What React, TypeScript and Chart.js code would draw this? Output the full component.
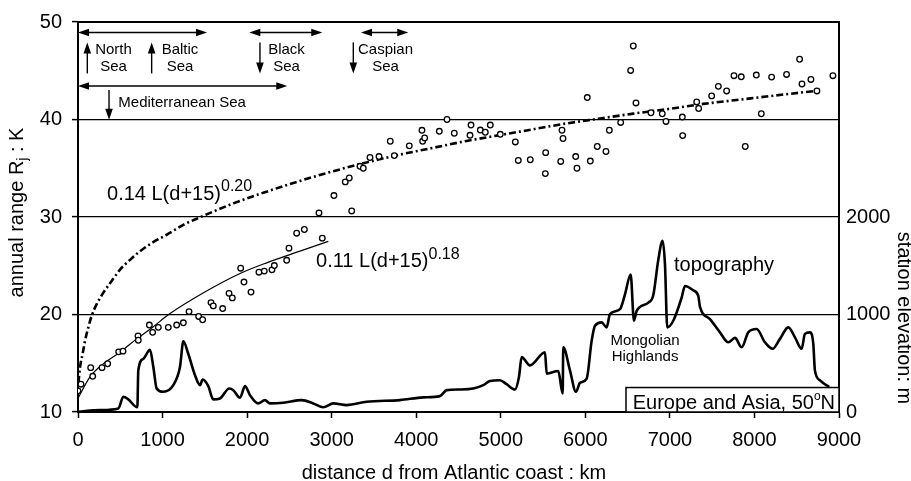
import { useEffect, useRef } from "react";
import { Chart, registerables } from "chart.js";

Chart.register(...registerables);

const FONT = '"Liberation Sans", Arial, Helvetica, sans-serif';

// Station observations along 50°N: distance from the Atlantic coast (km)
const stationDistance = [
  0, 35, 150, 174, 284, 351, 481, 532, 710, 713, 844, 883, 950, 1068, 1167, 1246, 1313, 1427, 1474,
  1573, 1600, 1711, 1786, 1825, 1924, 1963, 2046, 2140, 2203, 2294, 2322, 2468, 2495, 2586, 2677,
  2889, 2850, 3237, 3027, 3161, 3208, 3335, 3374, 3453, 3560, 3741, 3693, 3918, 4068, 4076, 4100,
  4273, 4364, 4450, 4648, 4636, 4758, 4817, 4876, 4994, 5172, 5207, 5349, 5527, 5531, 5709, 5724,
  5736, 5886, 5901, 6023, 6059, 6141, 6244, 6284, 6418, 6536, 6567, 6599, 6776, 6910, 6954, 7147,
  7151, 7317, 7340, 7494, 7573, 7671, 7758, 7844, 7891, 8022, 8081, 8203, 8380, 8534, 8562, 8668,
  8739, 8928,
];
// Annual temperature range at each station (K)
const stationRange = [
  12.17, 12.85, 14.55, 13.66, 14.55, 14.95, 16.17, 16.24, 17.8, 17.36, 18.92, 18.17, 18.68, 18.68,
  18.92, 19.15, 20.3, 19.8, 19.46, 21.22, 20.88, 20.61, 22.17, 21.7, 24.75, 23.33, 22.3, 24.34,
  24.45, 24.58, 25.02, 25.56, 26.8, 28.34, 28.72, 27.83, 30.42, 30.62, 32.2, 33.6, 34.0, 35.2, 35.0,
  36.1, 36.2, 36.3, 37.77, 37.3, 38.89, 37.77, 38.1, 38.79, 40.0, 38.59, 39.43, 38.38, 38.92, 38.69,
  39.43, 38.48, 37.7, 35.8, 35.87, 34.45, 36.6, 35.7, 38.9, 38.05, 36.2, 35.0, 42.25, 35.74, 37.23,
  36.72, 38.9, 39.7, 45.03, 47.54, 41.7, 40.69, 40.59, 39.8, 40.25, 38.35, 41.8, 41.13, 42.42, 43.4,
  42.93, 44.49, 44.38, 37.23, 44.56, 40.59, 44.35, 44.62, 46.18, 43.64, 44.11, 42.93, 44.49,
];

// Curve 0.14 L(d+15)^0.20
const wideFitDistance = [
  5, 24, 55, 83, 122, 162, 221, 300, 398, 497, 615, 733, 871, 1049, 1246, 1443, 1837, 2231, 2625,
  3020, 3414, 3808, 4202, 4596, 4990, 5384, 5779, 6173, 6567, 7001, 7395, 7789, 8183, 8739,
];
const wideFitRange = [
  13.0, 14.6, 15.97, 17.3, 18.68, 19.87, 21.06, 22.24, 23.43, 24.6, 25.6, 26.48, 27.32, 28.18, 29.2,
  29.97, 31.4, 32.6, 33.7, 34.7, 35.6, 36.4, 37.1, 37.8, 38.4, 39.0, 39.6, 40.1, 40.6, 41.1, 41.6,
  42.0, 42.4, 42.95,
];

// Curve 0.11 L(d+15)^0.18
const narrowFitDistance = [0, 142, 300, 497, 694, 891, 1068, 1500, 1916, 2231, 2625, 2960];
const narrowFitRange = [11.4, 13.6, 14.95, 16.13, 17.5, 18.75, 19.97, 22.3, 24.2, 25.3, 26.5, 27.5];

// Topography profile along 50°N: distance (km) and elevation (m)
const topoDistance = [
  0, 260, 477, 536, 595, 702, 713, 773, 851, 891, 930, 1009, 1127, 1206, 1246, 1304, 1384, 1443,
  1474, 1541, 1600, 1679, 1789, 1837, 1916, 1975, 2034, 2132, 2211, 2270, 2428, 2645, 2783, 2901,
  3020, 3178, 3414, 3808, 4084, 4281, 4360, 4518, 4675, 4793, 4872, 4990, 5069, 5168, 5215, 5247,
  5345, 5523, 5543, 5680, 5732, 5739, 5818, 5889, 5937, 6016, 6075, 6114, 6193, 6252, 6291, 6410,
  6469, 6536, 6575, 6607, 6745, 6804, 6863, 6914, 6942, 6969, 7040, 7139, 7178, 7277, 7336, 7356,
  7474, 7592, 7691, 7770, 7849, 7927, 8026, 8124, 8215, 8302, 8400, 8479, 8558, 8597, 8656, 8696,
  8715, 8774, 8833, 8873,
];
const topoElevation = [
  3, 20, 37, 156, 129, 48, 427, 546, 638, 461, 241, 207, 275, 461, 725, 597, 376, 275, 333, 265, 129,
  139, 241, 224, 146, 265, 173, 88, 122, 88, 95, 122, 88, 48, 88, 71, 105, 122, 150, 163, 224, 231,
  241, 275, 318, 326, 285, 231, 359, 563, 478, 613, 394, 420, 190, 664, 427, 207, 298, 343, 732, 885,
  919, 868, 1004, 1055, 1207, 1411, 936, 1038, 1122, 1200, 1560, 1757, 1513, 868, 936, 1173, 1292,
  1248, 1190, 1078, 953, 817, 715, 760, 664, 817, 851, 715, 648, 750, 868, 766, 648, 801, 817, 699,
  427, 326, 285, 265,
];

// Marginal seas: horizontal extent (km) of each arrow span and the row (K) it sits on
const seaSpans = [
  { from: 0, to: 1526, at: 48.93 },
  { from: 2026, to: 2889, at: 48.93 },
  { from: 3347, to: 3906, at: 48.93 },
  { from: 0, to: 2475, at: 43.43 },
];
// Vertical pointers: tail value and head value (K)
const seaPointers = [
  { at: 110, from: 44.72, to: 47.91 },
  { at: 871, from: 44.72, to: 47.91 },
  { at: 2152, from: 47.91, to: 44.72 },
  { at: 3256, from: 47.91, to: 44.72 },
  { at: 367, from: 43.02, to: 39.97 },
];
const seaNames = [
  { at: 420, lines: ["North", "Sea"] },
  { at: 1206, lines: ["Baltic", "Sea"] },
  { at: 2466, lines: ["Black", "Sea"] },
  { at: 3637, lines: ["Caspian", "Sea"] },
];

const pairs = (xs: number[], ys: number[]) => xs.map((x, i) => ({ x, y: ys[i] }));

type Run = [string, number, number];

function runsWidth(ctx: CanvasRenderingContext2D, runs: Run[]) {
  let w = 0;
  for (const [t, s] of runs) {
    ctx.font = `${s}px ${FONT}`;
    w += ctx.measureText(t).width;
  }
  return w;
}

function drawRuns(ctx: CanvasRenderingContext2D, x: number, y: number, runs: Run[]) {
  let cx = x;
  for (const [t, s, dy] of runs) {
    ctx.font = `${s}px ${FONT}`;
    ctx.fillText(t, cx, y + dy);
    cx += ctx.measureText(t).width;
  }
}

function head(ctx: CanvasRenderingContext2D, x: number, y: number, ux: number, uy: number) {
  const len = 11;
  const half = 3.8;
  ctx.beginPath();
  ctx.moveTo(x, y);
  ctx.lineTo(x - ux * len - uy * half, y - uy * len + ux * half);
  ctx.lineTo(x - ux * len + uy * half, y - uy * len - ux * half);
  ctx.closePath();
  ctx.fill();
}

const figureText = {
  id: "figureText",
  afterDraw(chart: any) {
    const { ctx, chartArea, scales } = chart;
    const px = (d: number) => scales.x.getPixelForValue(d);
    const py = (r: number) => scales.y.getPixelForValue(r);
    ctx.save();
    ctx.fillStyle = "#000";
    ctx.strokeStyle = "#000";

    // top edge of the frame
    ctx.lineWidth = 2;
    ctx.beginPath();
    ctx.moveTo(chartArea.left - 1, chartArea.top);
    ctx.lineTo(chartArea.right + 1, chartArea.top);
    ctx.stroke();

    // sea extent arrows
    ctx.lineWidth = 1.4;
    for (const s of seaSpans) {
      const x1 = px(s.from);
      const x2 = px(s.to);
      const y = py(s.at);
      ctx.beginPath();
      ctx.moveTo(x1 + 6, y);
      ctx.lineTo(x2 - 6, y);
      ctx.stroke();
      head(ctx, x1, y, -1, 0);
      head(ctx, x2, y, 1, 0);
    }
    for (const p of seaPointers) {
      const x = px(p.at);
      const y1 = py(p.from);
      const y2 = py(p.to);
      const dir = y2 < y1 ? -1 : 1;
      ctx.beginPath();
      ctx.moveTo(x, y1);
      ctx.lineTo(x, y2 - dir * 6);
      ctx.stroke();
      head(ctx, x, y2, 0, dir);
    }

    ctx.textBaseline = "alphabetic";
    ctx.font = `15px ${FONT}`;
    ctx.textAlign = "center";
    for (const n of seaNames) {
      ctx.fillText(n.lines[0], px(n.at), py(46.67));
      ctx.fillText(n.lines[1], px(n.at), py(45.01));
    }
    ctx.textAlign = "left";
    ctx.fillText("Mediterranean Sea", px(477), py(41.25));

    // curve labels
    drawRuns(ctx, px(343), py(31.73), [
      ["0.14 L(d+15)", 20, 0],
      ["0.20", 16, -9],
    ]);
    drawRuns(ctx, px(2815), py(24.86), [
      ["0.11 L(d+15)", 20, 0],
      ["0.18", 16, -8],
    ]);
    ctx.font = `20px ${FONT}`;
    ctx.fillText("topography", px(7049), py(24.5));
    ctx.font = `15px ${FONT}`;
    ctx.textAlign = "center";
    ctx.fillText("Mongolian", px(6706), py(16.92));
    ctx.fillText("Highlands", px(6706), py(15.22));
    ctx.textAlign = "left";

    // region box
    const bx = px(6481);
    const by = py(12.51);
    ctx.fillStyle = "#fff";
    ctx.fillRect(bx, by, chartArea.right - bx, chartArea.bottom - by);
    ctx.lineWidth = 1.5;
    ctx.strokeRect(bx, by, chartArea.right - bx, chartArea.bottom - by);
    ctx.fillStyle = "#000";
    drawRuns(ctx, px(6560), py(10.35), [
      ["Europe and Asia, 50", 20, 0],
      ["o", 12, -9],
      ["N", 20, 0],
    ]);

    // axis titles
    ctx.font = `20px ${FONT}`;
    ctx.textAlign = "center";
    ctx.fillText("distance d from Atlantic coast : km", 454, 478.5);

    ctx.save();
    ctx.translate(898, 318);
    ctx.rotate(Math.PI / 2);
    ctx.fillText("station elevation: m", 0, 0);
    ctx.restore();

    ctx.save();
    ctx.translate(23, 212.5);
    ctx.rotate(-Math.PI / 2);
    ctx.textAlign = "left";
    const left: Run[] = [
      ["annual range R", 20, 0],
      ["j", 14, 4],
      [" : K", 20, 0],
    ];
    drawRuns(ctx, -runsWidth(ctx, left) / 2, 0, left);
    ctx.restore();

    ctx.restore();
  },
};

export default function App() {
  const ref = useRef<HTMLCanvasElement | null>(null);

  useEffect(() => {
    const canvas = ref.current;
    if (!canvas) return;
    const tickFont = { family: FONT, size: 20 };
    const chart = new Chart(canvas, {
      type: "scatter",
      data: {
        datasets: [
          {
            label: "stations",
            data: pairs(stationDistance, stationRange),
            yAxisID: "y",
            showLine: false,
            pointStyle: "circle",
            pointRadius: 2.8,
            pointBorderWidth: 1.3,
            pointBorderColor: "#000",
            pointBackgroundColor: "#fff",
          },
          {
            label: "0.11 L(d+15)^0.18",
            data: pairs(narrowFitDistance, narrowFitRange),
            yAxisID: "y",
            showLine: true,
            borderColor: "#000",
            borderWidth: 1.2,
            pointRadius: 0,
            cubicInterpolationMode: "monotone",
          },
          {
            label: "0.14 L(d+15)^0.20",
            data: pairs(wideFitDistance, wideFitRange),
            yAxisID: "y",
            showLine: true,
            borderColor: "#000",
            borderWidth: 2.6,
            borderDash: [7, 3, 2, 3],
            pointRadius: 0,
            cubicInterpolationMode: "monotone",
          },
          {
            label: "topography",
            data: pairs(topoDistance, topoElevation),
            yAxisID: "y2",
            showLine: true,
            borderColor: "#000",
            borderWidth: 2.6,
            borderJoinStyle: "round",
            borderCapStyle: "round",
            pointRadius: 0,
            cubicInterpolationMode: "monotone",
          },
        ],
      } as any,
      options: {
        responsive: false,
        animation: false,
        devicePixelRatio: 1,
        events: [],
        layout: { padding: { top: 19, left: 0, right: 0, bottom: 0 } },
        plugins: { legend: { display: false }, tooltip: { enabled: false } },
        scales: {
          x: {
            type: "linear",
            position: "bottom",
            min: 0,
            max: 9000,
            ticks: {
              stepSize: 1000,
              color: "#000",
              font: tickFont,
              padding: 10,
              maxRotation: 0,
              autoSkip: false,
              callback: (v: any) => String(v),
            },
            grid: {
              drawOnChartArea: false,
              drawTicks: true,
              tickLength: 6,
              tickColor: "#000",
              tickWidth: 1.5,
            },
            border: { display: true, color: "#000", width: 2 },
            afterFit: (s: any) => {
              s.height = 69;
            },
          },
          y: {
            type: "linear",
            position: "left",
            min: 10,
            max: 50,
            ticks: { stepSize: 10, color: "#000", font: tickFont, padding: 10 },
            grid: {
              color: "#000",
              lineWidth: 1.2,
              drawTicks: true,
              tickLength: 6,
              tickColor: "#000",
              tickWidth: 1.5,
            },
            border: { display: true, color: "#000", width: 2 },
            afterFit: (s: any) => {
              s.width = 78;
            },
          },
          y2: {
            type: "linear",
            position: "right",
            min: 0,
            max: 4000,
            ticks: {
              stepSize: 1000,
              color: "#000",
              font: tickFont,
              padding: 7,
              callback: (v: any) => (Number(v) <= 2000 ? String(v) : ""),
            },
            grid: { display: false, drawTicks: false, drawOnChartArea: false },
            border: { display: true, color: "#000", width: 2 },
            afterFit: (s: any) => {
              s.width = 72;
            },
          },
        },
      } as any,
      plugins: [figureText],
    });
    return () => chart.destroy();
  }, []);

  return (
    <div style={{ position: "absolute", left: 0, top: 0, width: 911, height: 481, background: "#fff" }}>
      <canvas ref={ref} width={911} height={481} style={{ display: "block", width: 911, height: 481 }} />
    </div>
  );
}
